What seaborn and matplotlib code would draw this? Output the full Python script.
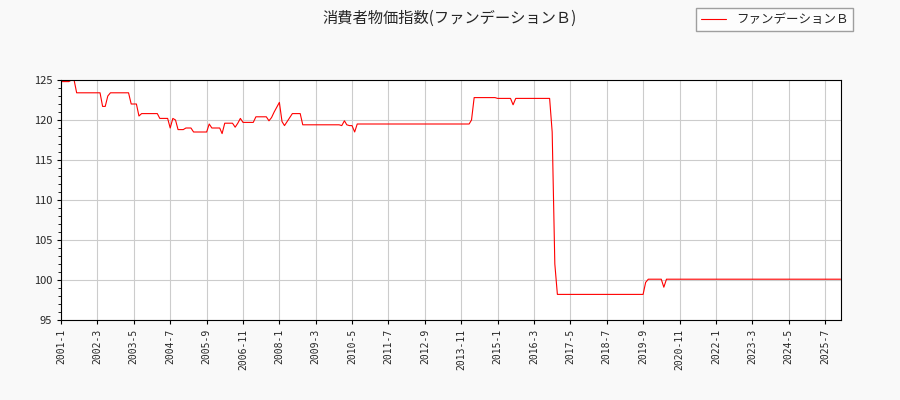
import matplotlib
matplotlib.use("Agg")
import matplotlib.pyplot as plt
import seaborn as sns
import pandas as pd
import numpy as np

# run-length data: (start month index from 2001-01, value)
run_starts = [0, 4, 6, 16, 18, 19, 27, 30, 31, 38, 42, 43, 44, 45, 48, 51, 57, 58, 62, 63, 67, 68, 69, 70, 75, 80, 81, 82, 83, 84, 85, 86, 87, 88, 89, 93, 108, 109, 110, 111, 113, 114, 158, 159, 168, 174, 175, 189, 190, 191, 225, 226, 232, 233]
run_values = [124.8, 125.0, 123.4, 121.7, 123.0, 123.4, 122.0, 120.5, 120.8, 120.2, 119.0, 120.2, 120.0, 118.8, 119.0, 118.5, 119.5, 119.0, 118.3, 119.6, 119.1, 119.6, 120.2, 119.7, 120.4, 119.9, 120.3, 121.0, 121.6, 122.2, 119.8, 119.3, 119.8, 120.3, 120.8, 119.4, 119.3, 119.9, 119.4, 119.3, 118.5, 119.5, 120.0, 122.8, 122.7, 121.9, 122.7, 118.5, 102.0, 98.2, 99.7, 100.1, 99.1, 100.1]
n_months = 301
series_name = "ファンデーションＢ"
title = "消費者物価指数(ファンデーションＢ)"

vals = []
for i in range(len(run_starts)):
    end = run_starts[i + 1] if i + 1 < len(run_starts) else n_months
    vals += [run_values[i]] * (end - run_starts[i])
dates = pd.date_range("2001-01-01", periods=n_months, freq="MS")
df = pd.DataFrame({"date": dates, "value": vals})

sns.set_style("whitegrid")
plt.rcParams['font.family'] = ['Noto Sans CJK JP', 'DejaVu Sans']

fig = plt.figure(figsize=(9, 4), dpi=100, facecolor="#f9f9f9")
ax = fig.add_axes([0.068, 0.2, 0.866, 0.6])
ax.set_facecolor("white")
sns.lineplot(data=df, x="date", y="value", color="red", linewidth=0.8, ax=ax, label=series_name)

ticks = pd.date_range("2001-01-01", "2025-07-01", freq="14MS")
ax.set_xticks(ticks)
ax.set_xticklabels([f"{d.year}-{d.month}" for d in ticks], rotation=90, fontsize=7, family="DejaVu Sans Mono")
ax.set_xlim(dates[0], dates[-1])
ax.set_ylim(95, 125)
ax.set_yticks(range(95, 126, 5))
ax.tick_params(axis="y", labelsize=8)
ax.minorticks_on()
ax.xaxis.set_minor_locator(matplotlib.ticker.NullLocator())
ax.yaxis.set_minor_locator(matplotlib.ticker.MultipleLocator(1))
ax.tick_params(which="both", direction="out", left=True, bottom=True, length=3, color="black")
ax.tick_params(which="minor", length=2)
ax.grid(True, color="#cccccc", linewidth=0.8)
for s in ax.spines.values():
    s.set_color("black"); s.set_linewidth(0.8)
ax.set_xlabel(""); ax.set_ylabel("")
ax.legend_.remove()
fig.legend(*ax.get_legend_handles_labels(), loc="upper right", bbox_to_anchor=(0.955, 0.995), fontsize=9, frameon=True, fancybox=False, edgecolor="#888888")
fig.suptitle(title, y=0.975, fontsize=11)
fig.savefig("out.png", dpi=100, facecolor=fig.get_facecolor())
